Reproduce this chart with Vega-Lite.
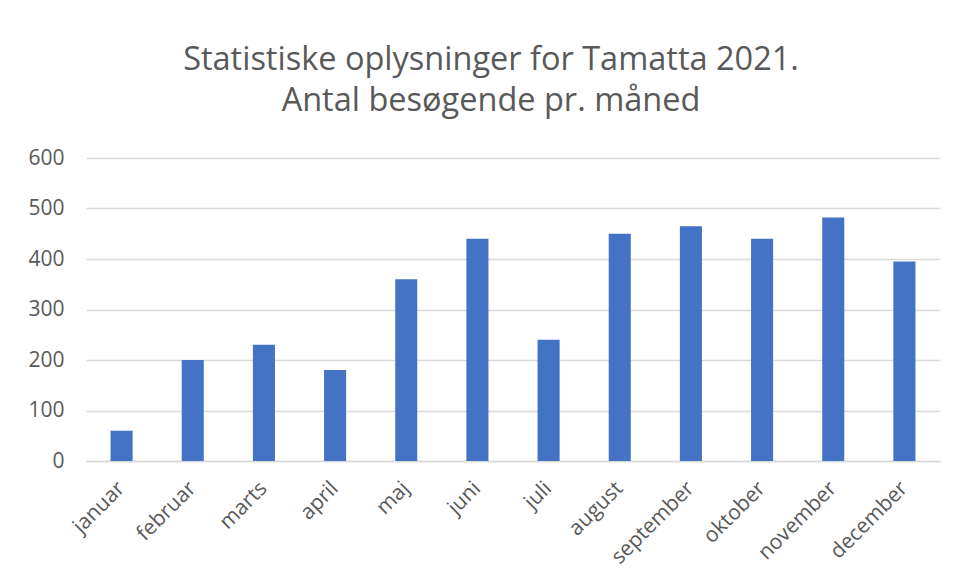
{
  "$schema": "https://vega.github.io/schema/vega-lite/v6.json",
  "autosize": "none",
  "width": 854,
  "height": 303,
  "padding": {"left": 86, "top": 158, "right": 19, "bottom": 121},
  "background": "white",
  "title": {
    "text": ["Statistiske oplysninger for Tamatta 2021.", "Antal besøgende pr. måned"],
    "font": "Open Sans",
    "fontSize": 32.5,
    "fontWeight": "normal",
    "color": "#595959",
    "lineHeight": 41,
    "anchor": "middle",
    "dx": -22,
    "offset": 30
  },
  "data": {
    "values": [
      {"maaned": "januar", "antal": 60},
      {"maaned": "februar", "antal": 200},
      {"maaned": "marts", "antal": 230},
      {"maaned": "april", "antal": 180},
      {"maaned": "maj", "antal": 360},
      {"maaned": "juni", "antal": 440},
      {"maaned": "juli", "antal": 240},
      {"maaned": "august", "antal": 450},
      {"maaned": "september", "antal": 465},
      {"maaned": "oktober", "antal": 440},
      {"maaned": "november", "antal": 482},
      {"maaned": "december", "antal": 395}
    ]
  },
  "mark": {"type": "bar", "color": "#4472C4"},
  "encoding": {
    "x": {
      "field": "maaned",
      "type": "nominal",
      "sort": null,
      "title": null,
      "scale": {"paddingInner": 0.69, "paddingOuter": 0.345},
      "axis": {
        "labelAngle": -45,
        "labelAlign": "right",
        "labelBaseline": "middle",
        "labelFont": "Open Sans",
        "labelFontSize": 21,
        "labelColor": "#595959",
        "labelPadding": 24,
        "labelOverlap": false,
        "labelLimit": 300,
        "ticks": false,
        "domainColor": "#d9d9d9",
        "domainWidth": 1.5
      }
    },
    "y": {
      "field": "antal",
      "type": "quantitative",
      "title": null,
      "scale": {"domain": [0, 600]},
      "axis": {
        "values": [0, 100, 200, 300, 400, 500, 600],
        "labelFont": "Open Sans",
        "labelFontSize": 21,
        "labelColor": "#595959",
        "labelPadding": 22,
        "ticks": false,
        "domain": false,
        "gridColor": "#d9d9d9",
        "gridWidth": 1.5
      }
    }
  },
  "config": {"view": {"stroke": null}}
}
